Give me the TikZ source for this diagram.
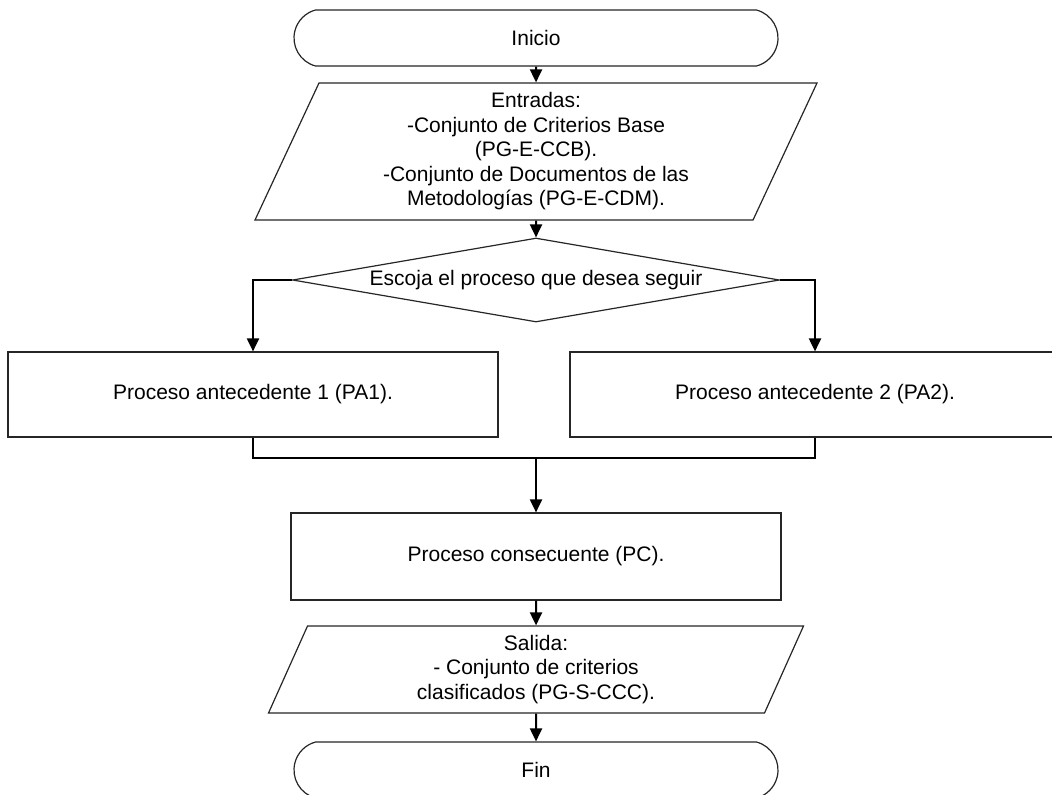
\documentclass[tikz,border=0pt]{standalone}
\usepackage{fontspec}
\setmainfont{Liberation Sans}
\usetikzlibrary{arrows.meta,shapes.geometric,shapes.misc}
\tikzset{
  fx/.style={x=0.5pt, y=-0.5pt, font=\fontsize{10.5}{12.25}\selectfont},
  f box/.style={draw=black!85, line width=0.6pt, fill=white, align=center, inner sep=2pt},
  f term/.style={f box, rounded rectangle, rounded rectangle arc length=150, minimum width=246pt, minimum height=28pt},
  f io/.style={f box, trapezium, trapezium left angle=63, trapezium right angle=117, trapezium stretches body},
  f proc/.style={f box, rectangle, minimum width=245pt, minimum height=42.5pt},
  f dec/.style={f box, diamond, inner sep=0pt, minimum width=243.5pt, minimum height=42pt},
  f line/.style={line width=1pt},
  f arr/.style={f line, -{Triangle[length=6.5pt, width=6pt]}},
}
\begin{document}
\begin{tikzpicture}[fx]
\useasboundingbox (0,0) rectangle (1052,794);
\node[f term] (ini) at (536,38) {Inicio};
\node[f io, minimum width=281pt, minimum height=68.5pt] (ent) at (536,151.5) {Entradas:\\-Conjunto de Criterios Base\\(PG-E-CCB).\\-Conjunto de Documentos de las\\Metodologías (PG-E-CDM).};
\node[f dec, label=center:{Escoja el proceso que desea seguir}] (esc) at (536,280) {};
\node[f proc] (pa1) at (253,394.5) {Proceso antecedente 1 (PA1).};
\node[f proc] (pa2) at (815,394.5) {Proceso antecedente 2 (PA2).};
\coordinate (jn) at (536,458);
\node[f proc, minimum height=43.5pt] (pc) at (536,556.5) {Proceso consecuente (PC).};
\node[f io, minimum width=267.5pt, minimum height=43.5pt] (sal) at (536,669.5) {Salida:\\- Conjunto de criterios\\clasificados (PG-S-CCC).};
\node[f term] (fin) at (536,770) {Fin};
\draw[f arr] (ini) -- (ent);
\draw[f arr] (ent) -- (esc);
\draw[f arr] (esc.west) -| (pa1.north);
\draw[f arr] (esc.east) -| (pa2.north);
\draw[f line] (pa1.south) |- (jn) -| (pa2.south);
\draw[f arr] (jn) -- (pc);
\draw[f arr] (pc) -- (sal);
\draw[f arr] (sal) -- (fin);
\end{tikzpicture}
\end{document}
